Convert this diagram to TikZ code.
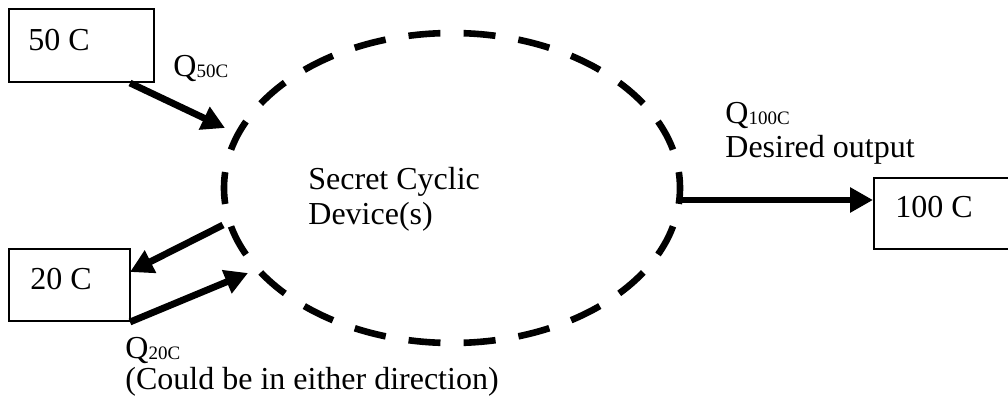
\documentclass[tikz,border=0pt]{standalone}
\usepackage{fontspec}
\setmainfont{Liberation Serif}
\usetikzlibrary{arrows.meta,shapes.geometric}
% small lowered subscript text after Q
\newcommand\heatsub[1]{\raisebox{-0.6pt}{\fontsize{9.5pt}{11pt}\selectfont #1}}
\begin{document}
\begin{tikzpicture}[x=0.5pt,y=-0.5pt,
  reservoir/.style={draw,line width=0.75pt,inner sep=0,anchor=north west},
  lbl/.style={anchor=base west,inner sep=0,font=\fontsize{16pt}{18pt}\selectfont},
  flow/.style={line width=3.4pt,-{Triangle[length=11.5pt,width=12pt]}},
  device/.style={draw,ellipse,inner sep=0,line width=3.3pt,
    dash pattern=on 16pt off 11.6pt,dash phase=8pt}]
\useasboundingbox (0,0) rectangle (1008,402);

% reservoirs
\node[reservoir,minimum width=72.5pt,minimum height=36.5pt] (b50) at (8,8) {};
\node[reservoir,minimum width=60.5pt,minimum height=36pt] (b20) at (8,248) {};
\node[reservoir,minimum width=68pt,minimum height=35.5pt] (b100) at (873,177) {};

% the cyclic device
\node[device,minimum width=228pt,minimum height=155pt] (cyc) at (452,188) {};

% labels
\node[lbl] (t50) at (28,50) {50 C};
\node[lbl] (t20) at (30,289) {20 C};
\node[lbl] (t100) at (895,217) {100 C};
\node[lbl] (q50) at (173,76) {Q\heatsub{50C}};
\node[lbl] (sec1) at (308,189) {Secret Cyclic};
\node[lbl] (sec2) at (308,224) {Device(s)};
\node[lbl] (q100) at (725,123) {Q\heatsub{100C}};
\node[lbl] (des) at (725,157) {Desired output};
\node[lbl] (q20) at (125,358) {Q\heatsub{20C}};
\node[lbl] (dir) at (125,389) {(Could be in either direction)};

% arrow end points
\coordinate (a50s) at (130,83);
\coordinate (a50e) at (225,128);
\coordinate (o20s) at (223,225);
\coordinate (o20e) at (130,272);
\coordinate (i20s) at (130,322);
\coordinate (i20e) at (248,273);
\coordinate (a100s) at (680,200);
\coordinate (a100e) at (873,200);

% heat flows
\draw[flow] (a50s) -- (a50e);
\draw[flow] (o20s) -- (o20e);
\draw[flow] (i20s) -- (i20e);
\draw[flow] (a100s) -- (a100e);
\end{tikzpicture}
\end{document}
